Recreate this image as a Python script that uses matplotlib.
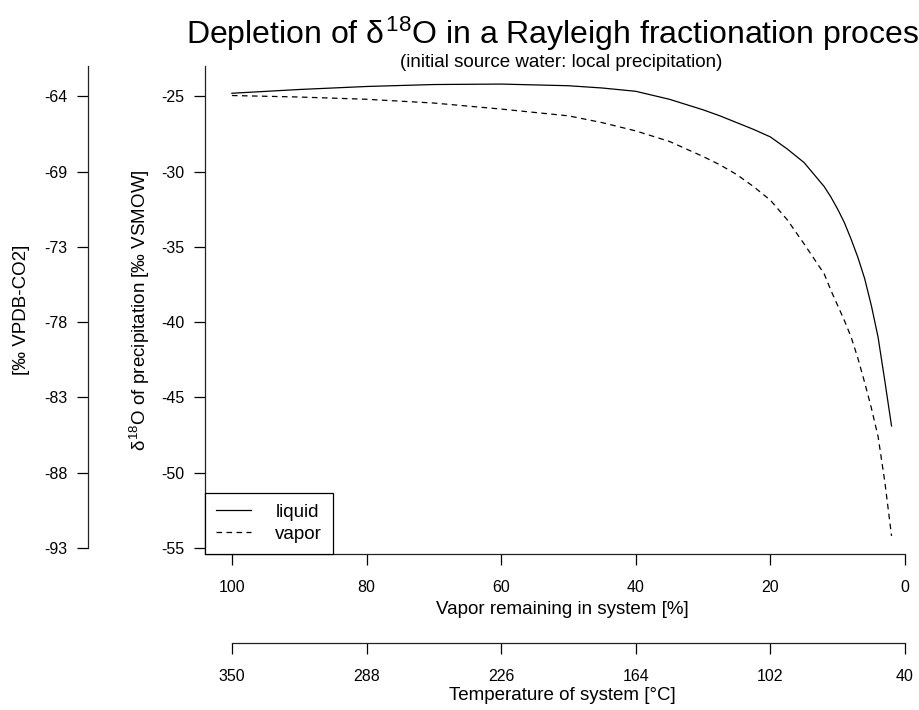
import matplotlib
matplotlib.use("Agg")
import matplotlib.pyplot as plt

plt.rcParams['font.family'] = ['Liberation Sans', 'DejaVu Sans']
plt.rcParams['mathtext.fontset'] = 'custom'
plt.rcParams['mathtext.rm'] = 'Liberation Sans'
plt.rcParams['mathtext.it'] = 'Liberation Sans'
plt.rcParams['mathtext.bf'] = 'Liberation Sans:bold'
plt.rcParams['axes.unicode_minus'] = False

# vapor remaining [%] and d18O of liquid / vapor [permil VSMOW]
vapor_left = [100, 90, 80, 70, 60, 50, 45, 40, 35, 30, 27.5, 25, 22.5, 20, 17.5,
              15, 13.5, 12, 11, 10, 9, 8, 7, 6, 5, 4, 3, 2]
d18o_liquid = [-24.8, -24.55, -24.35, -24.22, -24.19, -24.3, -24.45, -24.67, -25.2,
               -25.9, -26.3, -26.75, -27.2, -27.7, -28.5, -29.4, -30.2, -31.0, -31.7,
               -32.5, -33.4, -34.5, -35.7, -37.1, -38.9, -41.0, -43.9, -46.9]
d18o_vapor = [-24.95, -25.05, -25.2, -25.45, -25.85, -26.3, -26.75, -27.3, -28.0,
              -29.0, -29.55, -30.2, -31.0, -31.9, -33.2, -34.8, -35.8, -36.8, -37.9,
              -38.9, -39.9, -41.0, -42.4, -44.0, -45.7, -47.6, -50.6, -54.2]

# axis ticks
vsmow_ticks = [-25, -30, -35, -40, -45, -50, -55]
vpdb_labels = ["-64", "-69", "-73", "-78", "-83", "-88", "-93"]
vapor_ticks = [100, 80, 60, 40, 20, 0]
temp_labels = ["350", "288", "226", "164", "102", "40"]

W, H = 919, 710
fig = plt.figure(figsize=(W / 100, H / 100), dpi=100)


def fx(px):
    return px / W


def fy(py):
    return 1 - py / H


left, right, top, bottom = 205, 905, 66, 554
ax = fig.add_axes([fx(left), fy(bottom), fx(right - left), (bottom - top) / H])

ax.plot(vapor_left, d18o_liquid, color='black', lw=0.9, label='liquid')
ax.plot(vapor_left, d18o_vapor, color='black', lw=0.9, dashes=(4.5, 3.5), label='vapor')

ax.set_xlim(104, 0)
lo, hi = min(d18o_vapor + d18o_liquid), max(d18o_vapor + d18o_liquid)
pad = 0.04 * (hi - lo)
ax.set_ylim(lo - pad, hi + pad)

for s in ['top', 'right']:
    ax.spines[s].set_visible(False)
for s in ['left', 'bottom']:
    ax.spines[s].set_linewidth(0.9)
    ax.spines[s].set_color('#222222')

ax.set_yticks(vsmow_ticks)
ax.set_yticklabels([str(v) for v in vsmow_ticks])
ax.set_xticks(vapor_ticks)
ax.set_xticklabels([str(v) for v in vapor_ticks])
ax.tick_params(axis='y', direction='out', length=8, width=0.9, pad=7, labelsize=11.5)
ax.tick_params(axis='x', direction='out', length=8, width=0.9, pad=11, labelsize=11.5)

leg = ax.legend(loc='lower left', borderaxespad=0, fancybox=False, framealpha=1,
                edgecolor='black', fontsize=13.5, handlelength=1.85, handletextpad=1.3,
                borderpad=0.6, labelspacing=0.25)
leg.get_frame().set_linewidth(0.9)

# second y axis (VPDB-CO2 scale)
ax2 = fig.add_axes([fx(88), fy(bottom), 0.0001, (bottom - top) / H])
ax2.set_ylim(ax.get_ylim())
ax2.set_xticks([])
for s in ['top', 'right', 'bottom']:
    ax2.spines[s].set_visible(False)
ax2.spines['left'].set_linewidth(0.9)
ax2.spines['left'].set_color('#222222')
ax2.spines['left'].set_bounds(vsmow_ticks[-1], ax.get_ylim()[1])
ax2.set_yticks(vsmow_ticks)
ax2.set_yticklabels(vpdb_labels)
ax2.tick_params(axis='y', direction='out', length=8, width=0.9, pad=7, labelsize=11.5)
ax2.patch.set_visible(False)

# second x axis (temperature)
ax3 = fig.add_axes([fx(left), fy(643), fx(right - left), 0.0001])
ax3.set_xlim(ax.get_xlim())
ax3.set_yticks([])
for s in ['top', 'right', 'left']:
    ax3.spines[s].set_visible(False)
ax3.spines['bottom'].set_linewidth(0.9)
ax3.spines['bottom'].set_color('#222222')
ax3.spines['bottom'].set_bounds(vapor_ticks[0], vapor_ticks[-1])
ax3.set_xticks(vapor_ticks)
ax3.set_xticklabels(temp_labels)
ax3.tick_params(axis='x', direction='out', length=8, width=0.9, pad=11, labelsize=11.5)
ax3.patch.set_visible(False)

# titles and axis labels
fig.text(fx(561), fy(44), r"Depletion of $\delta^{18}$O in a Rayleigh fractionation process",
         ha='center', va='baseline', fontsize=23)
fig.text(fx(561), fy(67), "(initial source water: local precipitation)",
         ha='center', va='baseline', fontsize=13.5)
fig.text(fx(562), fy(610), "Vapor remaining in system [%]", ha='center', va='center', fontsize=13.5)
fig.text(fx(562), fy(696), "Temperature of system [°C]", ha='center', va='center', fontsize=13.5)
fig.text(fx(140), fy(310), r"$\delta^{18}$O of precipitation [‰ VSMOW]",
         ha='center', va='center', rotation=90, fontsize=13.5)
fig.text(fx(22), fy(310), "[‰ VPDB-CO2]", ha='center', va='center', rotation=90, fontsize=13.5)

fig.savefig("out.png", dpi=100)
